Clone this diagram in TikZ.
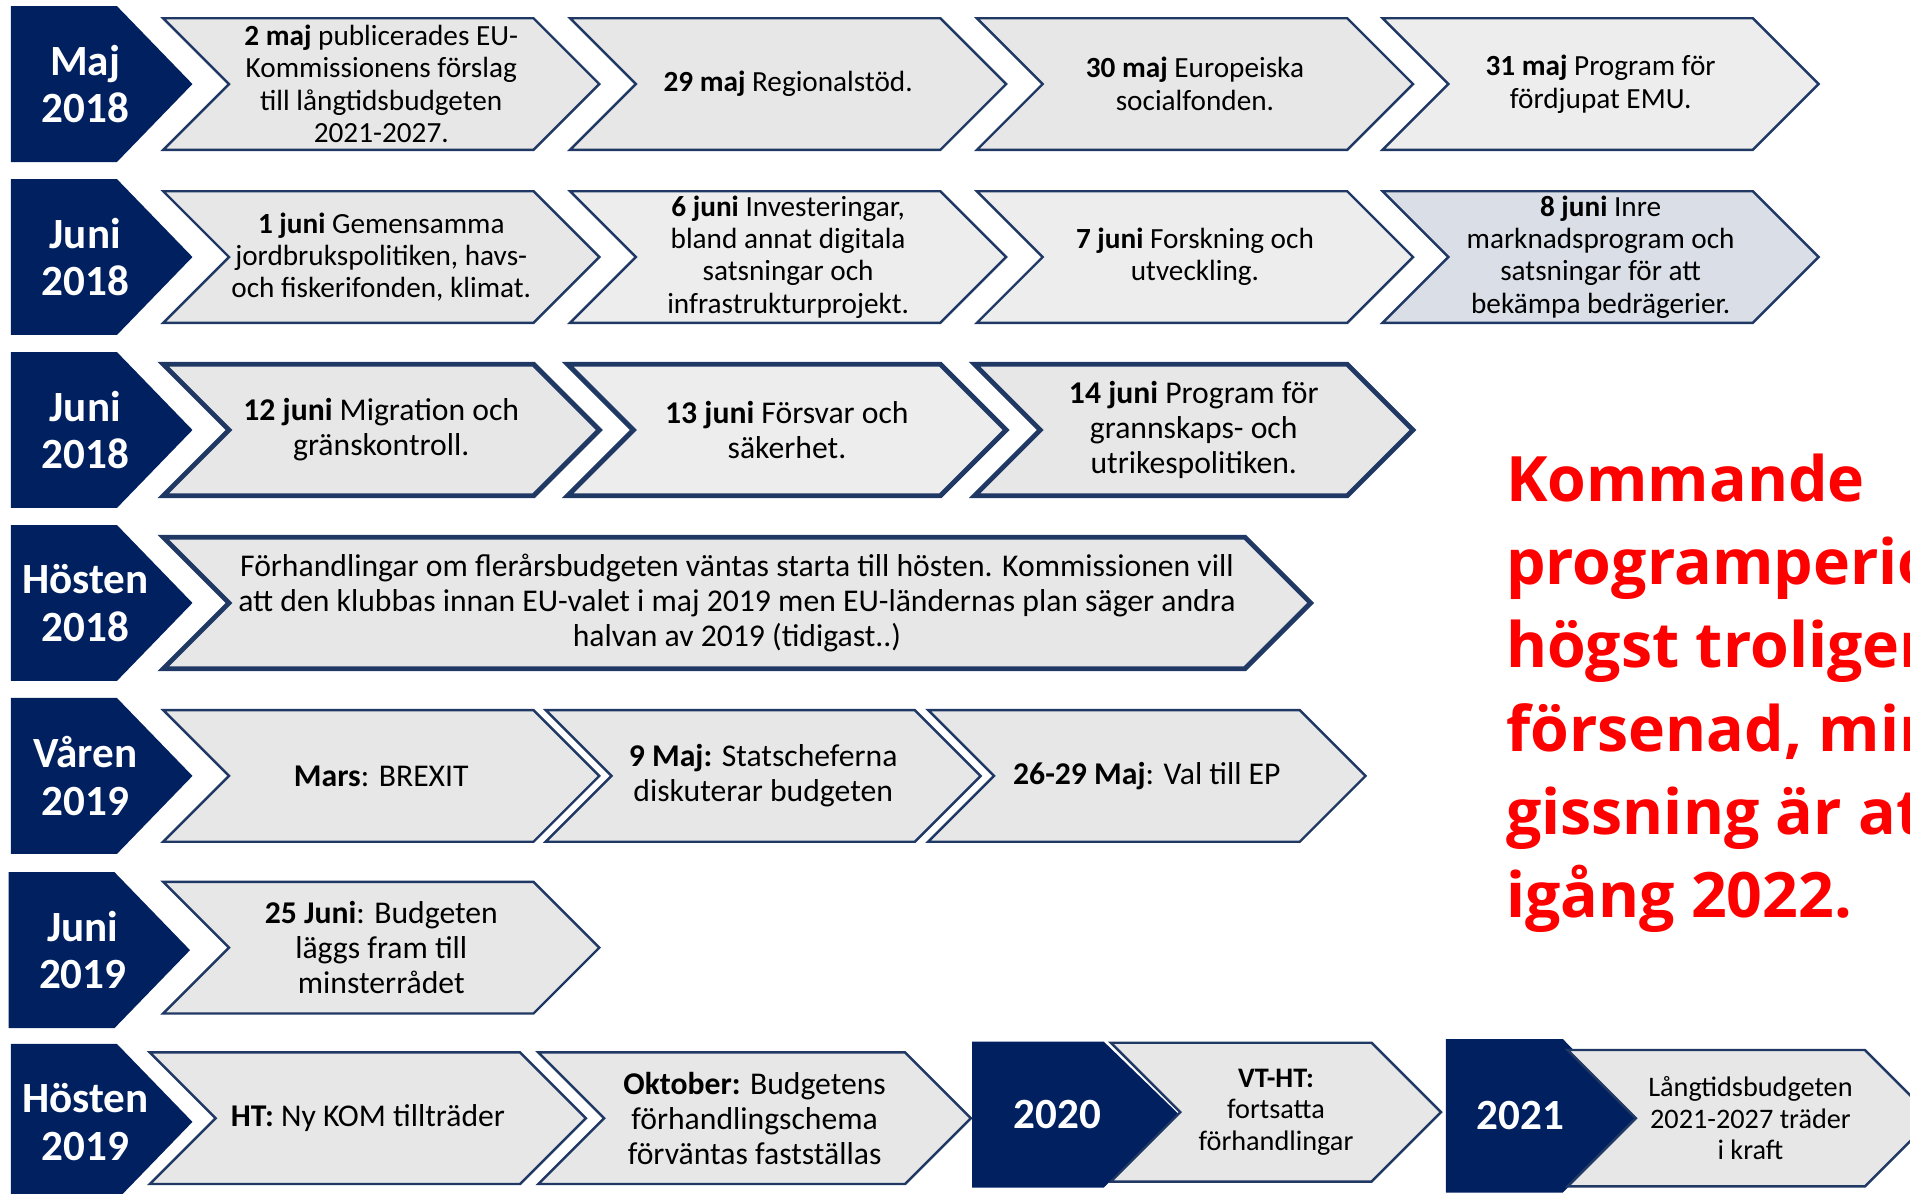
\documentclass[tikz,border=0pt]{standalone}
\usepackage{fontspec}
\setmainfont{Carlito}
\newfontfamily\notefont{Open Sans}
\usepackage{tikz}
\usetikzlibrary{positioning}
\definecolor{eunavy}{RGB}{0,32,96}
\definecolor{euedge}{RGB}{32,56,100}
\definecolor{eugrey}{RGB}{231,231,231}
\definecolor{eulight}{RGB}{237,237,237}
\definecolor{eublue}{RGB}{218,222,231}
\definecolor{eured}{RGB}{255,0,0}
\tikzstyle{yearbox} = [fill=eunavy]
\tikzstyle{yeartext} = [text=white, align=center, inner sep=0pt, font=\bfseries\fontsize{17.7}{19.5}\selectfont]
\tikzstyle{chevbox} = [draw=euedge, line width=1pt, fill=eugrey, line join=miter]
\tikzstyle{thickbox} = [chevbox, line width=2pt]
\tikzstyle{smalltext} = [align=center, inner sep=0pt, font=\fontsize{12}{13.3}\selectfont]
\tikzstyle{bigtext} = [align=center, inner sep=0pt, font=\fontsize{13}{14.3}\selectfont]
\tikzstyle{tinytext} = [align=center, inner sep=0pt, font=\fontsize{11.6}{13}\selectfont]
\tikzstyle{notetext} = [text=eured, align=left, inner sep=0pt, font=\notefont\bfseries\fontsize{25.7}{34.2}\selectfont]

% chevron: shape style, text style, name, left x, tip x, mid y, half height, text
\newcommand{\chev}[8]{%
  \draw[#1] (#4,#6-#7) -- (#5-#7,#6-#7) -- (#5,#6) -- (#5-#7,#6+#7) -- (#4,#6+#7) -- (#4+#7,#6) -- cycle;
  \node[#2] (#3) at ({(#4+#5)/2},#6) {#8};
}
% year block: name, left x, tip x, mid y, half height, text x, text
\newcommand{\yearblk}[7]{%
  \fill[yearbox] (#2,#4-#5) -- (#3-62,#4-#5) -- (#3,#4) -- (#3-62,#4+#5) -- (#2,#4+#5) -- cycle;
  \node[yeartext] (#1) at (#6,#4) {#7};
}

\begin{document}
\begin{tikzpicture}[x=0.5pt, y=-0.5pt]
\path[use as bounding box, clip] (0,0) rectangle (1568,980);

% Maj 2018
\yearblk{may18}{9}{158}{69}{64}{70}{Maj\\2018}
\chev{chevbox}{smalltext}{may2}{134}{492}{69}{54}{\textbf{2 maj} publicerades EU-\\Kommissionens förslag\\till långtidsbudgeten\\2021-2027.}
\chev{chevbox}{smalltext}{may29}{468}{826}{69}{54}{\textbf{29 maj} Regionalstöd.}
\chev{chevbox}{smalltext}{may30}{802}{1160}{69}{54}{\textbf{30 maj} Europeiska\\socialfonden.}
\chev{chevbox, fill=eulight}{smalltext}{may31}{1135}{1493}{69}{54}{\textbf{31 maj} Program för\\fördjupat EMU.}

% Juni 2018
\yearblk{jun18a}{9}{158}{211}{64}{70}{Juni\\2018}
\chev{chevbox}{smalltext}{jun1}{134}{492}{211}{54}{\textbf{1 juni} Gemensamma\\jordbrukspolitiken, havs-\\och fiskerifonden, klimat.}
\chev{chevbox, fill=eulight}{smalltext}{jun6}{468}{826}{211}{54}{\textbf{6 juni} Investeringar,\\bland annat digitala\\satsningar och\\infrastrukturprojekt.}
\chev{chevbox, fill=eulight}{smalltext}{jun7}{802}{1160}{211}{54}{\textbf{7 juni} Forskning och\\utveckling.}
\chev{chevbox, fill=eublue}{smalltext}{jun8}{1135}{1493}{211}{54}{\textbf{8 juni} Inre\\marknadsprogram och\\satsningar för att\\bekämpa bedrägerier.}

% Juni 2018, second row
\yearblk{jun18b}{9}{158}{353}{64}{70}{Juni\\2018}
\chev{thickbox}{bigtext}{jun12}{134}{492}{353}{54}{\textbf{12 juni} Migration och\\gränskontroll.}
\chev{thickbox, fill=eulight}{bigtext}{jun13}{466}{826}{353}{54}{\textbf{13 juni} Försvar och\\säkerhet.}
\chev{thickbox}{bigtext}{jun14}{800}{1160}{353}{54}{\textbf{14 juni} Program för\\grannskaps- och\\utrikespolitiken.}

% Hösten 2018
\yearblk{aut18}{9}{158}{495}{64}{70}{Hösten\\2018}
\chev{thickbox}{bigtext}{talks}{134}{1076}{495}{54}{Förhandlingar om flerårsbudgeten väntas starta till hösten. Kommissionen vill\\att den klubbas innan EU-valet i maj 2019 men EU-ländernas plan säger andra\\halvan av 2019 (tidigast..)}

% Våren 2019
\yearblk{spr19}{9}{158}{637}{64}{70}{Våren\\2019}
\chev{chevbox}{bigtext}{brexit}{134}{492}{637}{54}{\textbf{Mars}: BREXIT}
\chev{chevbox}{bigtext}{may9}{448}{805}{637}{54}{\textbf{9 Maj:} Statscheferna\\diskuterar budgeten}
\chev{chevbox}{bigtext}{ep}{762}{1121}{637}{54}{\textbf{26-29 Maj}: Val till EP}

% Juni 2019
\yearblk{jun19}{7}{156}{780}{64}{68}{Juni\\2019}
\chev{chevbox}{bigtext}{jun25}{134}{492}{778}{54}{\textbf{25 Juni}: Budgeten\\läggs fram till\\minsterrådet}

% Hösten 2019, 2020, 2021
\yearblk{aut19}{9}{158}{921}{64}{70}{Hösten\\2019}
\chev{chevbox}{bigtext}{newkom}{123}{481}{918}{54}{\textbf{HT:} Ny KOM tillträder}
\chev{chevbox}{bigtext}{oct}{442}{797}{918}{54}{\textbf{Oktober:} Budgetens\\förhandlingschema\\förväntas fastställas}
\yearblk{y2020}{798}{968}{915}{60}{868}{2020}
\chev{chevbox}{tinytext}{vtht}{912}{1183}{913}{57}{\textbf{VT-HT:}\\fortsatta\\förhandlingar}
\yearblk{y2021}{1187}{1345}{916}{63}{1248}{2021}
\chev{chevbox}{tinytext}{mff}{1287}{1587}{918}{56}{Långtidsbudgeten\\2021-2027 träder\\i kraft}

% Note
\node[notetext, anchor=north west] (note) at (1236,372) {Kommande\\programperioden\\högst troligen\\försenad, min\\gissning är att\\igång 2022.};
\end{tikzpicture}
\end{document}
